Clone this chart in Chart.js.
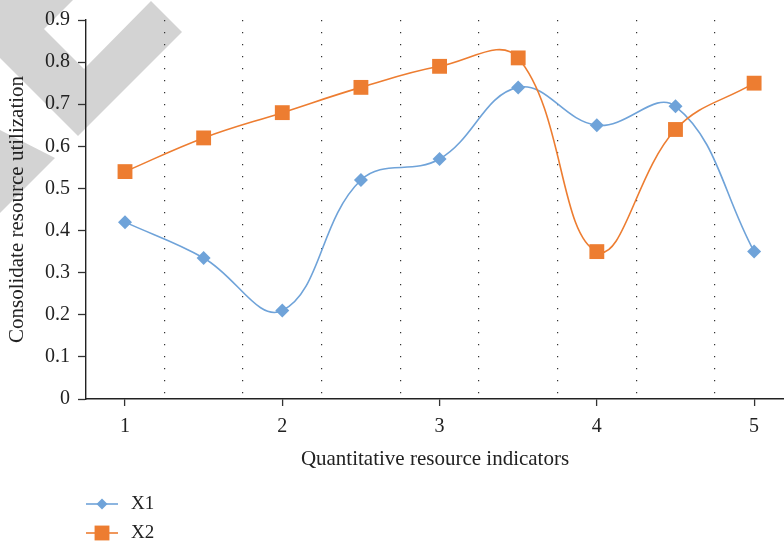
<!DOCTYPE html>
<html>
<head>
<meta charset="utf-8">
<script src="https://cdn.jsdelivr.net/npm/chart.js@4.4.1/dist/chart.umd.min.js"></script>
<style>
  html, body { margin: 0; padding: 0; background: #fff; }
  canvas { display: block; }
</style>
</head>
<body>
<canvas id="chart" width="784" height="543"></canvas>
<script>
// Measurement positions along the indicator axis
const xValues = [1, 1.5, 2, 2.5, 3, 3.5, 4, 4.5, 5];
// Consolidated resource utilization per series
const seriesX1 = [0.42, 0.335, 0.21, 0.52, 0.57, 0.74, 0.65, 0.695, 0.35];
const seriesX2 = [0.54, 0.62, 0.68, 0.74, 0.79, 0.81, 0.35, 0.64, 0.75];
const seriesNames = ['X1', 'X2'];
// Labelled ticks and dotted separators on the x axis
const xTickLabels = [1, 2, 3, 4, 5];
const xDividers = [1.25, 1.75, 2.25, 2.75, 3.25, 3.75, 4.25, 4.75];
const yTickValues = [0, 0.1, 0.2, 0.3, 0.4, 0.5, 0.6, 0.7, 0.8, 0.9];

const FAMILY = '"Liberation Serif", "Times New Roman", serif';
const TICK_FONT = { family: FAMILY, size: 20 };
const TITLE_FONT = { family: FAMILY, size: 21 };
const LEGEND_FONT = { family: FAMILY, size: 19 };
const TEXT = '#222';

const toPoints = (ys) => xValues.map((x, i) => ({ x, y: ys[i] }));

// Grey chevron emblem in the upper-left corner, painted beneath the chart
const cornerEmblem = {
  id: 'cornerEmblem',
  beforeDraw(chart) {
    const ctx = chart.ctx;
    ctx.save();
    ctx.fillStyle = '#fff';
    ctx.fillRect(0, 0, chart.width, chart.height);
    ctx.fillStyle = '#d3d3d3';
    const shapes = [
      [[0, 0], [73, 0], [44, 29], [84, 69], [151, 1], [182, 32], [78, 136], [0, 58]],
      [[0, 130], [55, 158], [0, 213]]
    ];
    shapes.forEach(pts => {
      ctx.beginPath();
      pts.forEach(([x, y], i) => i ? ctx.lineTo(x, y) : ctx.moveTo(x, y));
      ctx.closePath();
      ctx.fill();
    });
    ctx.restore();
  }
};

function marker(ctx, style, r, x, y, color) {
  ctx.fillStyle = color;
  ctx.beginPath();
  if (style === 'rectRot') {
    ctx.moveTo(x, y - r); ctx.lineTo(x + r, y); ctx.lineTo(x, y + r); ctx.lineTo(x - r, y);
  } else {
    const h = r * Math.SQRT1_2;
    ctx.rect(x - h, y - h, 2 * h, 2 * h);
  }
  ctx.closePath();
  ctx.fill();
}

// Vertical legend below the x-axis title: line sample with marker, then name
const stackedLegend = {
  id: 'stackedLegend',
  afterDraw(chart) {
    const ctx = chart.ctx;
    const left = chart.chartArea.left;
    const baseY = chart.chartArea.bottom + 105;
    ctx.save();
    chart.data.datasets.forEach((ds, i) => {
      const y = baseY + i * 29;
      ctx.strokeStyle = ds.borderColor;
      ctx.lineWidth = ds.borderWidth;
      ctx.beginPath();
      ctx.moveTo(left, y);
      ctx.lineTo(left + 32, y);
      ctx.stroke();
      marker(ctx, ds.pointStyle, ds.legendRadius, left + 16, y, ds.pointBackgroundColor);
      ctx.fillStyle = TEXT;
      ctx.font = `${LEGEND_FONT.size}px ${LEGEND_FONT.family}`;
      ctx.textAlign = 'left';
      ctx.textBaseline = 'middle';
      ctx.fillText(ds.label, left + 45, y);
    });
    ctx.restore();
  }
};

new Chart(document.getElementById('chart'), {
  type: 'line',
  data: {
    datasets: [
      {
        label: seriesNames[0],
        data: toPoints(seriesX1),
        borderColor: '#6fa3d9',
        backgroundColor: '#6fa3d9',
        pointBackgroundColor: '#6fa3d9',
        pointBorderWidth: 0,
        pointStyle: 'rectRot',
        pointRadius: 7,
        legendRadius: 5.5,
        borderWidth: 1.6,
        tension: 0.4,
        fill: false,
        order: 1
      },
      {
        label: seriesNames[1],
        data: toPoints(seriesX2),
        borderColor: '#ed7d31',
        backgroundColor: '#ed7d31',
        pointBackgroundColor: '#ed7d31',
        pointBorderWidth: 0,
        pointStyle: 'rect',
        pointRadius: 10.5,
        legendRadius: 10.5,
        borderWidth: 1.6,
        tension: 0.4,
        fill: false,
        order: 0
      }
    ]
  },
  options: {
    responsive: false,
    animation: false,
    events: [],
    layout: { autoPadding: false, padding: { top: 18, right: 0, bottom: 0, left: 0 } },
    plugins: { legend: { display: false }, tooltip: { enabled: false } },
    scales: {
      x: {
        type: 'linear',
        min: 0.752,
        max: 5.19,
        afterBuildTicks: (scale) => {
          scale.ticks = [...xTickLabels, ...xDividers].sort((a, b) => a - b).map(v => ({ value: v }));
        },
        afterFit: (scale) => {
          scale.height = 144;
          scale.paddingLeft = 0;
          scale.paddingRight = 0;
        },
        ticks: {
          autoSkip: false,
          maxRotation: 0,
          padding: 9,
          color: TEXT,
          font: TICK_FONT,
          callback: (v) => xTickLabels.includes(v) ? String(v) : ''
        },
        grid: {
          drawOnChartArea: true,
          drawTicks: true,
          tickLength: 7,
          lineWidth: 1.2,
          color: (c) => (c.tick && xDividers.includes(c.tick.value)) ? '#333' : 'rgba(0,0,0,0)',
          tickColor: (c) => (c.tick && xTickLabels.includes(c.tick.value)) ? '#333' : 'rgba(0,0,0,0)',
          tickWidth: 1.3
        },
        border: { display: true, color: '#222', width: 1.4, dash: [1.2, 10.8] },
        title: {
          display: true,
          text: 'Quantitative resource indicators',
          color: TEXT,
          font: TITLE_FONT,
          padding: { top: 0, bottom: 71 }
        }
      },
      y: {
        min: 0,
        max: 0.9,
        afterBuildTicks: (scale) => { scale.ticks = yTickValues.map(v => ({ value: v })); },
        afterFit: (scale) => { scale.width = 86; },
        ticks: {
          padding: 8,
          color: TEXT,
          font: TICK_FONT,
          callback: (v) => v === 0 ? '0' : v.toFixed(1)
        },
        grid: {
          drawOnChartArea: false,
          drawTicks: true,
          tickLength: 8,
          tickColor: '#333',
          tickWidth: 1.3
        },
        border: { display: true, color: '#222', width: 1.4 },
        title: {
          display: true,
          text: 'Consolidate resource utilization',
          color: TEXT,
          font: TITLE_FONT,
          padding: { top: 5, bottom: 0 }
        }
      }
    }
  },
  plugins: [cornerEmblem, stackedLegend]
});
</script>
</body>
</html>
